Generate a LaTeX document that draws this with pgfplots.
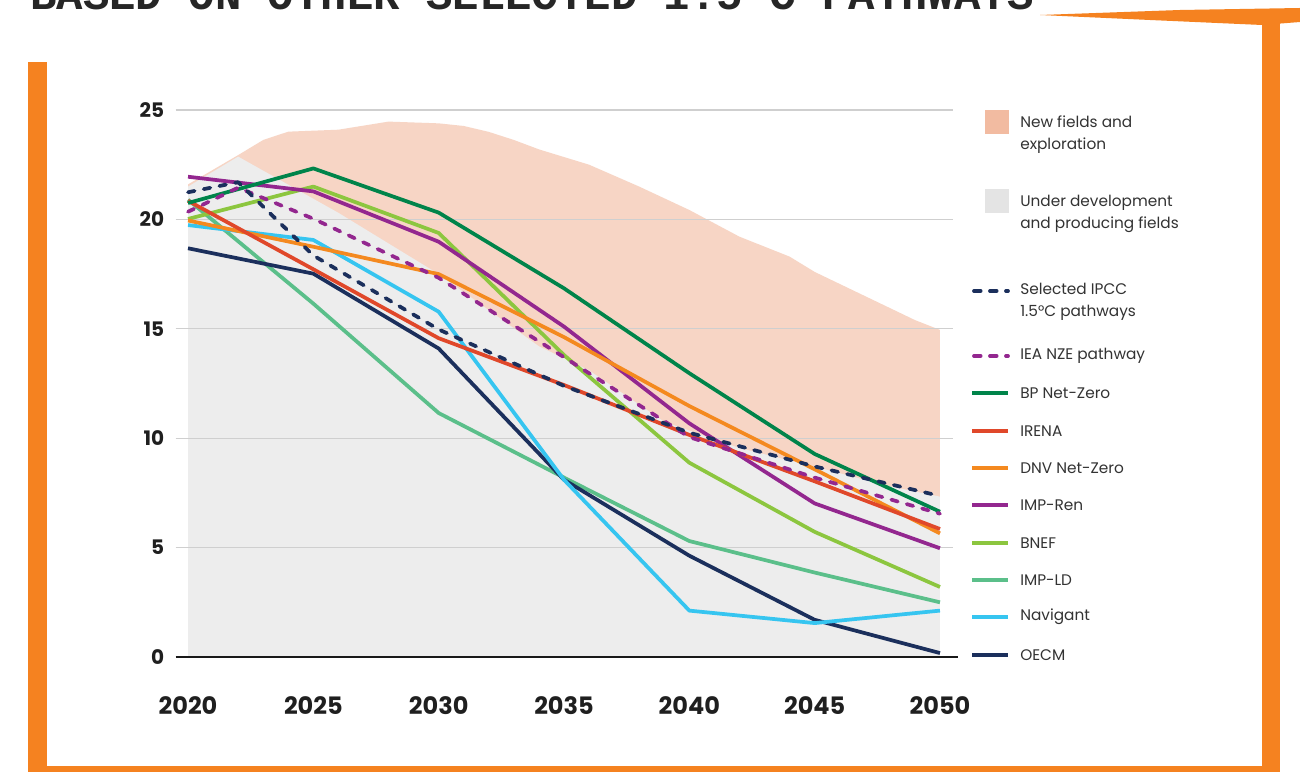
\documentclass[border=0pt]{standalone}
\usepackage{fontspec}
\setmainfont{Poppins}
\newfontfamily\titlefont{Liberation Mono}
\usepackage{pgfplots}
\pgfplotsset{compat=1.18}
\definecolor{frameor}{HTML}{F58220}
\definecolor{pinkA}{HTML}{F7D5C5}
\definecolor{pinkL}{HTML}{F2BBA1}
\definecolor{grayA}{HTML}{EDEDED}
\definecolor{grayL}{HTML}{E4E4E4}
\definecolor{gridgray}{HTML}{CFCFCF}
\definecolor{cBP}{HTML}{00844A}
\definecolor{cIRENA}{HTML}{E0482A}
\definecolor{cDNV}{HTML}{F4891F}
\definecolor{cREN}{HTML}{93278F}
\definecolor{cBNEF}{HTML}{8CC63F}
\definecolor{cLD}{HTML}{5BBF8A}
\definecolor{cNAV}{HTML}{36C5F0}
\definecolor{cOECM}{HTML}{1B2F5C}
\definecolor{txt}{HTML}{333333}
\begin{document}
\begin{tikzpicture}[x=0.75pt,y=0.75pt]
\fill[white] (0,0) rectangle (1300,772);
\begin{pgfinterruptboundingbox}
\begin{scope}
\clip (0,0) rectangle (1300,772);
\node[anchor=base west, inner sep=0, text=black!85,
      font=\titlefont\bfseries\fontsize{33}{33}\selectfont] at (30,762)
      {BASED ON OTHER SELECTED 1.5°C PATHWAYS};
\fill[frameor] (1040,757) -- (1180,762) -- (1300,764) -- (1300,750) -- (1262,747) -- (1150,752) -- cycle;
\end{scope}
\end{pgfinterruptboundingbox}
\fill[frameor] (28,0) rectangle (47,710);
\fill[frameor] (28,0) rectangle (1280,6);
\fill[frameor] (1262,0) rectangle (1280,752);

\begin{axis}[
  at={(131.625pt,86.25pt)}, anchor=south west,
  scale only axis, width=582.75pt, height=410.25pt,
  xmin=2019.5, xmax=2050.5, ymin=0, ymax=25,
  xtick={2020,2025,...,2050}, ytick={0,5,...,25},
  axis line style={draw=none},
  major tick length=0pt,
  /pgf/number format/assume math mode=true,
  /pgf/number format/1000 sep={},
  tick label style={text=black!88},
  x tick label style={font=\bfseries\fontsize{18}{18}\selectfont, anchor=center, yshift=-36.5pt},
  y tick label style={font=\bfseries\fontsize{15}{15}\selectfont, xshift=-5pt},
  clip=false,
  every axis plot/.append style={line width=2.8pt, line join=round},
]
% New fields and exploration (pink)
\addplot[fill=pinkA, draw=none] coordinates {
 (2020,0) (2020,21.6) (2022,22.94) (2023,23.63) (2024,24.01) (2026,24.1) (2028,24.47)
 (2030,24.39) (2031,24.27) (2032,24.0) (2033,23.63) (2034,23.2) (2035,22.85) (2036,22.5)
 (2038,21.5) (2040,20.43) (2042,19.21) (2044,18.3) (2045,17.6) (2047,16.5) (2049,15.4)
 (2050,14.95) (2050,0)} -- cycle;
% Under development and producing fields (grey)
\addplot[fill=grayA, draw=none] coordinates {
 (2020,0) (2020,21.5) (2022,22.87) (2026,20.3) (2030,17.5) (2034,14.2) (2036,13.1)
 (2039,10.75) (2042,9.55) (2045,8.7) (2048,7.8) (2050,7.33) (2050,0)} -- cycle;
% grid lines
\addplot[gridgray, line width=0.9pt] coordinates {(2019.5,5) (2050.5,5)};
\addplot[gridgray, line width=0.9pt] coordinates {(2019.5,10) (2050.5,10)};
\addplot[gridgray, line width=0.9pt] coordinates {(2019.5,15) (2050.5,15)};
\addplot[gridgray, line width=0.9pt] coordinates {(2019.5,20) (2050.5,20)};
\addplot[gridgray, line width=0.9pt] coordinates {(2019.5,25) (2050.5,25)};
\addplot[black!90, line width=2.2pt] coordinates {(2019.5,0) (2050.7,0)};

% Lines
\addplot[cLD] coordinates {(2020,20.9) (2025,16.15) (2030,11.15) (2035,8.2) (2040,5.3) (2045,3.86) (2050,2.5)};
\addplot[cOECM] coordinates {(2020,18.68) (2025,17.52) (2030,14.1) (2035,8.1) (2040,4.63) (2045,1.7) (2050,0.18)};
\addplot[cNAV] coordinates {(2020,19.74) (2025,19.06) (2030,15.78) (2035,8.1) (2040,2.12) (2045,1.55) (2050,2.12)};
\addplot[cBNEF] coordinates {(2020,20.02) (2025,21.5) (2030,19.38) (2035,13.8) (2040,8.88) (2045,5.72) (2050,3.2)};
\addplot[cREN] coordinates {(2020,21.95) (2025,21.28) (2030,18.98) (2035,15.1) (2040,10.68) (2045,7.02) (2050,4.97)};
\addplot[cDNV] coordinates {(2020,19.95) (2025,18.75) (2030,17.5) (2035,14.62) (2040,11.47) (2045,8.58) (2050,5.65)};
\addplot[cIRENA] coordinates {(2020,20.85) (2025,17.72) (2030,14.57) (2035,12.43) (2040,10.15) (2045,8.03) (2050,5.85)};
\addplot[cBP] coordinates {(2020,20.75) (2025,22.33) (2030,20.31) (2035,16.85) (2040,12.97) (2045,9.28) (2050,6.64)};
\addplot[cREN, line cap=round, dash pattern=on 5pt off 7pt] coordinates {(2020,20.35) (2022,21.45) (2025,20.03) (2030,17.33) (2035,13.7) (2040,10.05) (2045,8.2) (2050,6.55)};
\addplot[cOECM, line cap=round, dash pattern=on 5pt off 7pt] coordinates {(2020,21.24) (2022,21.7) (2025,18.35) (2030,14.97) (2035,12.39) (2040,10.25) (2045,8.71) (2050,7.36)};
\end{axis}

% Legend
\begin{scope}[every node/.style={anchor=west, inner sep=0, text=txt, font=\fontsize{11.5}{16.5}\selectfont, align=left}]
\fill[pinkL] (985,{772-110}) rectangle (1009,{772-134});
\node at (1020,{772-135}) {New fields and\\exploration};
\fill[grayL] (985,{772-189}) rectangle (1009,{772-213});
\node at (1020,{772-214}) {Under development\\and producing fields};
\draw[cOECM, line width=2.8pt, line cap=round, dash pattern=on 5pt off 7pt] (974,{772-291}) -- (1008,{772-291});
\node at (1020,{772-302}) {Selected IPCC\\1.5°C pathways};
\draw[cREN, line width=2.8pt, line cap=round, dash pattern=on 5pt off 7pt] (974,{772-356}) -- (1008,{772-356});
\node at (1020,{772-356}) {IEA NZE pathway};
\draw[cBP, line width=2.8pt] (972,{772-393}) -- (1008,{772-393});
\node at (1020,{772-393}) {BP Net-Zero};
\draw[cIRENA, line width=2.8pt] (972,{772-431}) -- (1008,{772-431});
\node at (1020,{772-431}) {IRENA};
\draw[cDNV, line width=2.8pt] (972,{772-468}) -- (1008,{772-468});
\node at (1020,{772-468}) {DNV Net-Zero};
\draw[cREN, line width=2.8pt] (972,{772-505}) -- (1008,{772-505});
\node at (1020,{772-505}) {IMP-Ren};
\draw[cBNEF, line width=2.8pt] (972,{772-543}) -- (1008,{772-543});
\node at (1020,{772-543}) {BNEF};
\draw[cLD, line width=2.8pt] (972,{772-580}) -- (1008,{772-580});
\node at (1020,{772-580}) {IMP-LD};
\draw[cNAV, line width=2.8pt] (972,{772-617}) -- (1008,{772-617});
\node at (1020,{772-617}) {Navigant};
\draw[cOECM, line width=2.8pt] (972,{772-655}) -- (1008,{772-655});
\node at (1020,{772-655}) {OECM};
\end{scope}
\end{tikzpicture}
\end{document}
